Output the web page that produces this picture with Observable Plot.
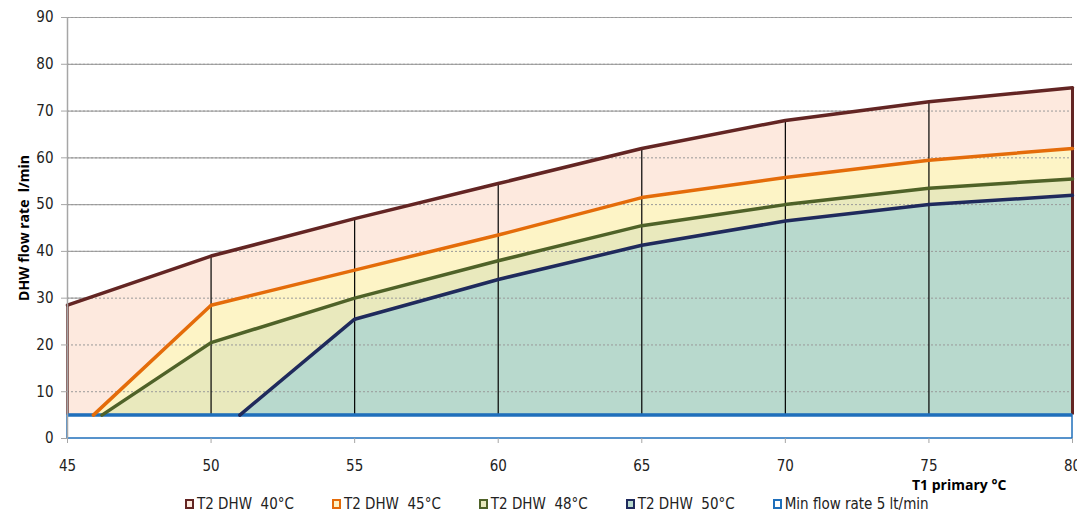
<!DOCTYPE html>
<html><head><meta charset="utf-8">
<script src="https://cdn.jsdelivr.net/npm/d3@7"></script>
<script src="https://cdn.jsdelivr.net/npm/@observablehq/plot@0.6"></script>
<style>
body{margin:0;background:#fff;font-family:"Liberation Sans Narrow","DejaVu Sans Condensed",Arial,sans-serif;}
#wrap{position:relative;width:1077px;height:516px;overflow:hidden;}
#xt{position:absolute;left:912px;top:475px;font-weight:bold;font-size:14px;color:#000;font-family:"Open Sans",sans-serif;}
#legend{position:absolute;left:185px;top:495px;display:flex;font-size:15px;color:#222;}
#legend .it{display:flex;align-items:center;margin-right:38px;white-space:pre;}
#legend .sw{width:5px;height:6px;border:2.5px solid;margin-right:3px;}
</style></head>
<body><div id="wrap"><div id="chart"></div><div id="xt">T1 primary °C</div><div id="legend"></div></div>
<script>
// ---- data ----
const temps = [45, 50, 55, 60, 65, 70, 75, 80];
const dhw40 = [28.5, 39, 47, 54.5, 62, 68, 72, 75];
const x45 = [45.9, 50, 55, 60, 65, 70, 75, 80];
const dhw45 = [5, 28.5, 36, 43.5, 51.5, 55.8, 59.5, 62];
const x48 = [46.2, 50, 55, 60, 65, 70, 75, 80];
const dhw48 = [5, 20.5, 30, 38, 45.5, 50, 53.5, 55.5];
const x50 = [51, 55, 60, 65, 70, 75, 80];
const dhw50 = [5, 25.5, 34, 41.3, 46.5, 50, 52];
const minFlow = 5;
const yTicks = [0, 10, 20, 30, 40, 50, 60, 70, 80, 90];
const xTicks = [45, 50, 55, 60, 65, 70, 75, 80];
const seriesNames = ["T2 DHW  40°C", "T2 DHW  45°C", "T2 DHW  48°C", "T2 DHW  50°C", "Min flow rate 5 lt/min"];

const lineColors = ["#632523", "#e46c0a", "#4f6228", "#1f2a5c", "#1f6fbb"];
const fillColors = ["#fde9de", "#fdf4c6", "#e9e9bd", "#b8d9cd", "#ffffff"];

const mk = (xs, ys) => xs.map((x, i) => ({x, y: ys[i]}));
const s40 = mk(temps, dhw40), s45 = mk(x45, dhw45), s48 = mk(x48, dhw48), s50 = mk(x50, dhw50);
const drops = s40.filter(d => d.x > 45 && d.x < 80);
const last = arr => arr[arr.length - 1];

const plot = Plot.plot({
  width: 1077, height: 494,
  marginLeft: 67, marginRight: 5, marginTop: 17, marginBottom: 56,
  style: {fontFamily: '"Liberation Sans Narrow","DejaVu Sans Condensed",Arial,sans-serif', fontSize: "15px", color: "#222"},
  x: {domain: [45, 80], ticks: xTicks, tickFormat: d => d, label: null},
  y: {domain: [0, 90], ticks: yTicks, label: null},
  marks: [
    Plot.ruleY(yTicks.filter(v => v > 0), {stroke: "#a6a6a6", strokeWidth: 1.2}),
    Plot.areaY(s40, {x: "x", y1: minFlow, y2: "y", fill: fillColors[0]}),
    Plot.areaY(s45, {x: "x", y1: minFlow, y2: "y", fill: fillColors[1]}),
    Plot.areaY(s48, {x: "x", y1: minFlow, y2: "y", fill: fillColors[2]}),
    Plot.areaY(s50, {x: "x", y1: minFlow, y2: "y", fill: fillColors[3]}),
    Plot.ruleY(yTicks.filter(v => v > 0), {stroke: "#999", strokeWidth: 1, strokeDasharray: "2,2"}),
    Plot.ruleX(drops, {x: "x", y1: 0, y2: "y", stroke: "#000", strokeWidth: 1.2}),
    Plot.ruleX([s40[0]], {x: "x", y1: minFlow, y2: "y", stroke: lineColors[0], strokeWidth: 2.5}),
    Plot.ruleX([last(s40)], {x: "x", y1: minFlow, y2: "y", stroke: lineColors[0], strokeWidth: 3}),
    Plot.rect([{x1: 45, x2: 80, y1: 0, y2: minFlow}], {x1: "x1", x2: "x2", y1: "y1", y2: "y2", fill: fillColors[4], stroke: lineColors[4], strokeWidth: 1.5}),
    Plot.ruleY([minFlow], {stroke: lineColors[4], strokeWidth: 3.5}),
    Plot.line(s40, {x: "x", y: "y", stroke: lineColors[0], strokeWidth: 3.5}),
    Plot.line(s45, {x: "x", y: "y", stroke: lineColors[1], strokeWidth: 3.5}),
    Plot.line(s48, {x: "x", y: "y", stroke: lineColors[2], strokeWidth: 3.5}),
    Plot.line(s50, {x: "x", y: "y", stroke: lineColors[3], strokeWidth: 3.5}),
    Plot.ruleX([45], {y1: 0, y2: 90, stroke: "#a6a6a6", strokeWidth: 1.5}),
    Plot.axisX({ticks: xTicks, tickSize: 5, tickPadding: 17, stroke: "#a6a6a6", fill: "#222", label: null}),
    Plot.axisY({ticks: yTicks, tickSize: 6, tickPadding: 8, stroke: "#a6a6a6", fill: "#222",
      label: "DHW flow rate  l/min", labelAnchor: "center", labelArrow: "none", labelOffset: 48})
  ]
});
document.getElementById("chart").appendChild(plot);
const yl = plot.querySelector('[aria-label="y-axis label"]');
if (yl) { yl.setAttribute("font-weight", "bold"); yl.setAttribute("font-size", "14px"); yl.setAttribute("font-family", '"Open Sans",sans-serif'); yl.setAttribute("fill", "#000"); }

const lg = document.getElementById("legend");
seriesNames.forEach((n, i) => {
  const it = document.createElement("div"); it.className = "it";
  const sw = document.createElement("span"); sw.className = "sw";
  sw.style.borderColor = lineColors[i]; sw.style.background = fillColors[i];
  const t = document.createElement("span"); t.textContent = n;
  it.appendChild(sw); it.appendChild(t); lg.appendChild(it);
});
</script></body></html>
